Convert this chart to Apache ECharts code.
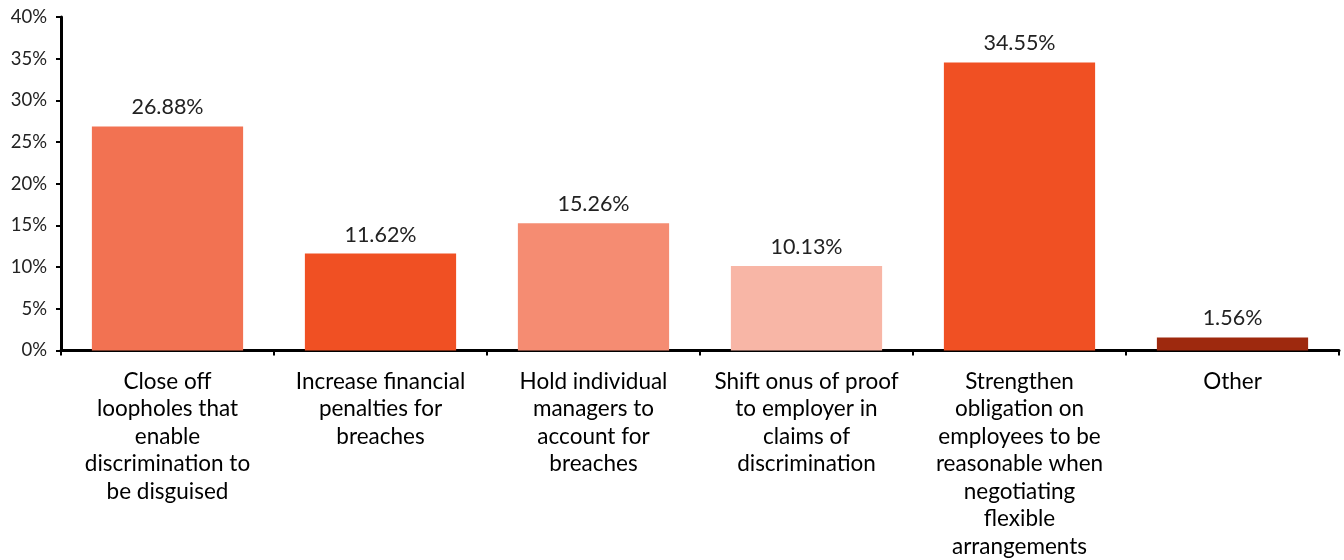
<!DOCTYPE html>
<html><head><meta charset="utf-8">
<script src="https://cdn.jsdelivr.net/npm/echarts@6/dist/echarts.min.js"></script>
<style>html,body{margin:0;padding:0;background:#fff}#c{width:1344px;height:560px}</style>
</head><body><div id="c"></div>
<script>
const categories = [
  "Close off\nloopholes that\nenable\ndiscrimination to\nbe disguised",
  "Increase financial\npenalties for\nbreaches",
  "Hold individual\nmanagers to\naccount for\nbreaches",
  "Shift onus of proof\nto employer in\nclaims of\ndiscrimination",
  "Strengthen\nobligation on\nemployees to be\nreasonable when\nnegotiating\nflexible\narrangements",
  "Other"
];
const values = [26.88, 11.62, 15.26, 10.13, 34.55, 1.56];
const colors = ["#F27252", "#F05023", "#F58C72", "#F8B6A6", "#F05023", "#9E290E"];
const yTicks = [0, 5, 10, 15, 20, 25, 30, 35, 40];

const font = "Lato, 'Noto Sans', sans-serif";
const chart = echarts.init(document.getElementById('c'));
chart.setOption({
  animation: false,
  grid: {left: 61, right: 5, top: 17, bottom: 208},
  xAxis: {
    type: 'category', data: categories,
    axisLine: {lineStyle: {color: '#000', width: 3}},
    axisTick: {show: true, length: 5, lineStyle: {color: '#000', width: 2}},
    axisLabel: {color: '#000', fontSize: 22.5, fontFamily: font, lineHeight: 27.5, margin: 17, interval: 0, verticalAlign: 'top'}
  },
  yAxis: {
    type: 'value', min: yTicks[0], max: yTicks[yTicks.length-1], interval: 5,
    splitLine: {show: false},
    axisLine: {show: true, lineStyle: {color: '#000', width: 3}},
    axisTick: {show: true, length: 5, lineStyle: {color: '#000', width: 2}},
    axisLabel: {color: '#222', fontSize: 18.5, fontFamily: font, margin: 14, formatter: v => v + '%'}
  },
  series: [{
    type: 'bar', barWidth: '71%',
    data: values.map((v, i) => ({value: v, itemStyle: {color: colors[i]}})),
    label: {show: true, position: 'top', distance: 8, color: '#222', fontSize: 21.5, fontFamily: font,
      formatter: p => p.value.toFixed(2) + '%'}
  }]
});
</script></body></html>
